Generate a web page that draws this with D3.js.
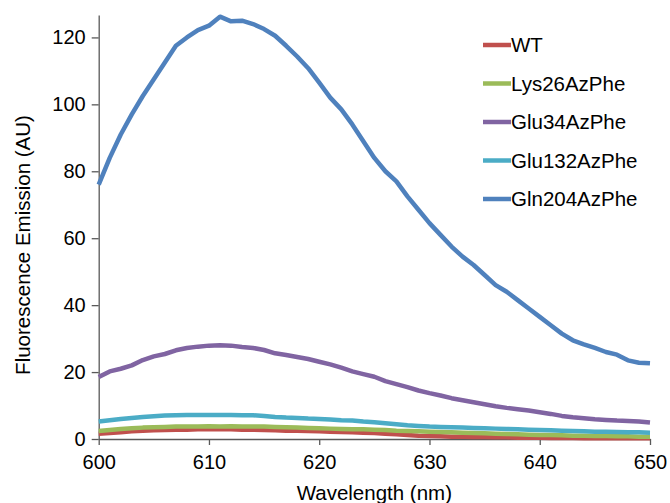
<!DOCTYPE html>
<html>
<head>
<meta charset="utf-8">
<script src="https://cdn.jsdelivr.net/npm/d3@7"></script>
<style>
  html, body { margin: 0; padding: 0; background: #fff; }
  svg { display: block; font-family: "Liberation Sans", Arial, sans-serif; }
</style>
</head>
<body>
<svg id="chart" width="670" height="503"></svg>
<script>
// ---- Data ----
const wavelengths = d3.range(600, 651, 1);
const seriesNames = ["WT", "Lys26AzPhe", "Glu34AzPhe", "Glu132AzPhe", "Gln204AzPhe"];
const seriesColors = ["#C0504D", "#9BBB59", "#8064A2", "#4BACC6", "#4F81BD"];

const wt = [1.6,1.8,2.0,2.3,2.5,2.6,2.7,2.8,2.8,2.9,2.9,2.9,2.9,2.8,2.8,2.7,2.6,2.5,2.5,2.4,2.3,2.2,2.1,2.0,1.9,1.8,1.6,1.4,1.2,1.0,0.9,0.8,0.7,0.7,0.6,0.6,0.5,0.5,0.4,0.4,0.4,0.3,0.3,0.3,0.2,0.2,0.2,0.2,0.2,0.2,0.2];
const lys26 = [2.4,2.7,3.0,3.2,3.4,3.5,3.6,3.7,3.7,3.7,3.8,3.7,3.8,3.7,3.7,3.7,3.6,3.5,3.4,3.3,3.2,3.1,3.0,2.9,2.9,2.8,2.7,2.5,2.4,2.3,2.2,2.1,2.0,1.9,1.8,1.7,1.6,1.5,1.4,1.3,1.2,1.2,1.1,1.0,1.0,0.9,0.9,0.8,0.8,0.7,0.7];
const glu34 = [18.5,20.2,21.0,22.0,23.6,24.7,25.4,26.5,27.2,27.6,27.9,28.0,27.9,27.5,27.2,26.6,25.6,25.1,24.5,23.9,23.1,22.3,21.3,20.2,19.4,18.6,17.3,16.4,15.5,14.5,13.7,13.0,12.2,11.6,11.0,10.4,9.8,9.3,8.9,8.5,8.0,7.5,6.9,6.5,6.2,5.9,5.7,5.5,5.4,5.2,4.9];
const glu132 = [5.2,5.6,6.0,6.3,6.6,6.8,7.0,7.1,7.2,7.2,7.2,7.2,7.2,7.1,7.1,6.9,6.6,6.4,6.3,6.1,6.0,5.8,5.6,5.5,5.2,5.0,4.7,4.4,4.1,3.9,3.7,3.6,3.5,3.4,3.3,3.2,3.1,3.0,2.9,2.8,2.7,2.6,2.5,2.4,2.3,2.2,2.2,2.1,2.0,2.0,1.9];
const gln204 = [76,84,91,97,102.5,107.5,112.5,117.5,120,122.2,123.5,126.2,124.8,125,124,122.5,120.5,117.5,114.3,110.8,106.5,102,98.5,94,89,84,80,77,72.5,68.5,64.5,61,57.5,54.5,52,49,46,44,41.5,39,36.5,34,31.5,29.5,28.3,27.2,26,25.2,23.5,22.8,22.6];

const xTicks = [600, 610, 620, 630, 640, 650];
const yTicks = [0, 20, 40, 60, 80, 100, 120];
const xTitle = "Wavelength (nm)";
const yTitle = "Fluorescence Emission (AU)";

const seriesValues = [wt, lys26, glu34, glu132, gln204];

// ---- Layout ----
const svg = d3.select("#chart");
const plotLeft = 98.7, plotRight = 650, plotTop = 15, plotBottom = 439;

const x = d3.scaleLinear().domain([600, 650]).range([plotLeft, plotRight]);
const y = d3.scaleLinear().domain([0, 126.7]).range([plotBottom, plotTop]);

const axisColor = "#595959";
const fontFam = "'Liberation Sans', Arial, sans-serif";

// Y axis
const yAxis = svg.append("g")
  .attr("transform", `translate(${plotLeft},0)`)
  .call(d3.axisLeft(y).tickValues(yTicks).tickSize(7).tickPadding(6).tickSizeOuter(0));
yAxis.select(".domain").attr("stroke", axisColor).attr("stroke-width", 1.3);
yAxis.selectAll(".tick line").attr("stroke", axisColor).attr("stroke-width", 1.3);
yAxis.selectAll(".tick text").attr("font-size", "20px").attr("fill", "#000")
  .attr("font-family", fontFam);

// X axis
const xAxis = svg.append("g")
  .attr("transform", `translate(0,${plotBottom})`)
  .call(d3.axisBottom(x).tickValues(xTicks).tickSize(6).tickPadding(10).tickSizeOuter(0));
xAxis.select(".domain").attr("stroke", axisColor).attr("stroke-width", 1.3);
xAxis.selectAll(".tick line").attr("stroke", axisColor).attr("stroke-width", 1.3);
xAxis.selectAll(".tick text").attr("font-size", "20px").attr("fill", "#000")
  .attr("font-family", fontFam);

// Lines
const line = d3.line()
  .x((d, i) => x(wavelengths[i]))
  .y(d => y(d))
  .curve(d3.curveLinear);

const linesG = svg.append("g");
seriesValues.forEach((vals, k) => {
  linesG.append("path")
    .datum(vals)
    .attr("d", line)
    .attr("fill", "none")
    .attr("stroke", seriesColors[k])
    .attr("stroke-width", 4.5)
    .attr("stroke-linejoin", "round")
    .attr("stroke-linecap", "butt");
});

// Axis titles
svg.append("text")
  .attr("x", (plotLeft + plotRight) / 2)
  .attr("y", 500)
  .attr("text-anchor", "middle")
  .attr("font-size", "20.5px")
  .attr("fill", "#000")
  .text(xTitle);

svg.append("text")
  .attr("transform", `translate(30,245) rotate(-90)`)
  .attr("text-anchor", "middle")
  .attr("font-size", "20.5px")
  .attr("fill", "#000")
  .text(yTitle);

// Legend
const legend = svg.append("g");
seriesNames.forEach((name, k) => {
  const ly = 45 + k * 38.5;
  legend.append("line")
    .attr("x1", 483).attr("x2", 511)
    .attr("y1", ly).attr("y2", ly)
    .attr("stroke", seriesColors[k])
    .attr("stroke-width", 4.5);
  legend.append("text")
    .attr("x", 511)
    .attr("y", ly)
    .attr("dy", "0.36em")
    .attr("font-size", "20.5px")
    .attr("fill", "#000")
    .text(name);
});
</script>
</body>
</html>
